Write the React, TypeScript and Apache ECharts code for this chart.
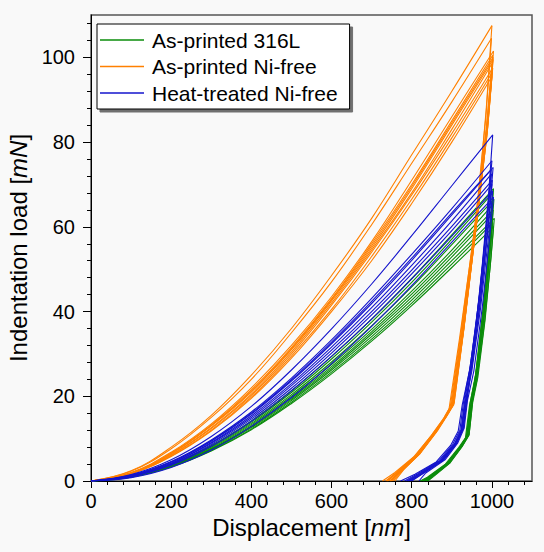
import React, { useEffect, useRef } from "react";
import * as echarts from "echarts";

// Displacement grid (nm) for loading branches
const loadDisp = [0, 100, 200, 300, 400, 500, 600, 700, 800, 900];

// ---------- As-printed 316L (green) ----------
const greenLoad = [
  [0, 1.2, 4.0, 8.4, 14.2, 21.3, 29.4, 38.2, 47.8, 58.1],
  [0, 1.2, 3.9, 8.2, 13.9, 20.9, 28.8, 37.5, 46.9, 57.1],
  [0, 1.1, 3.8, 8.0, 13.6, 20.4, 28.1, 36.6, 45.8, 55.8],
  [0, 1.1, 3.7, 7.8, 13.3, 20.0, 27.5, 35.8, 44.8, 54.5],
  [0, 1.0, 3.6, 7.6, 13.0, 19.6, 27.0, 35.2, 44.1, 53.7],
  [0, 1.0, 3.5, 7.5, 12.8, 19.3, 26.6, 34.7, 43.4, 52.9],
  [0, 1.0, 3.5, 7.4, 12.6, 19.0, 26.2, 34.1, 42.7, 52.0],
  [0, 0.9, 3.4, 7.2, 12.3, 18.6, 25.7, 33.5, 42.0, 51.2],
  [0, 0.9, 3.3, 7.1, 12.1, 18.3, 25.3, 33.0, 41.4, 50.4],
];
const greenPeak = [
  [1004, 69], [1002, 68], [1005, 66.5], [1000, 65], [1003, 64],
  [1001, 63], [1006, 62], [1002, 61], [1004, 60],
];
const greenUnload = [
  [[996, 58], [982, 42], [964, 27], [951, 19], [942, 11], [926, 8.4], [894, 4.3], [852, 1.1], [836, 0]],
  [[994, 57], [979, 41], [961, 26], [948, 18.5], [939, 10.8], [923, 8.2], [890, 4.2], [848, 1], [831, 0]],
  [[997, 56], [983, 41], [965, 26], [952, 19], [943, 11], [927, 8.4], [895, 4.3], [853, 1.1], [838, 0]],
  [[992, 55], [977, 40], [959, 25], [946, 18.5], [937, 10.5], [921, 8.1], [888, 4.1], [845, 1], [828, 0]],
  [[995, 54], [980, 39], [962, 25], [949, 18.5], [940, 10.6], [924, 8.2], [891, 4.2], [849, 1], [832, 0]],
  [[993, 53], [977, 38], [958, 24], [944, 17.8], [934, 10.2], [917, 7.9], [883, 3.9], [839, 0.9], [821, 0]],
  [[998, 53], [983, 38], [965, 24.5], [952, 18.5], [943, 10.8], [927, 8.3], [896, 4.3], [855, 1.1], [840, 0]],
  [[994, 52], [979, 37], [960, 23.5], [946, 17.5], [936, 10.3], [920, 8], [886, 4], [842, 0.9], [824, 0]],
  [[996, 51], [981, 37], [962, 23.5], [948, 17.5], [938, 10.4], [922, 8], [889, 4.1], [846, 1], [829, 0]],
];

// ---------- As-printed Ni-free (orange) ----------
const orangeLoad = [
  [0, 2.4, 8.0, 15.5, 25.0, 36.0, 48.5, 62.0, 77.0, 92.0],
  [0, 2.3, 7.6, 15.0, 24.0, 35.0, 47.0, 60.5, 75.0, 89.5],
  [0, 2.0, 6.8, 13.5, 22.0, 32.0, 43.5, 56.5, 71.0, 86.0],
  [0, 1.9, 6.6, 13.2, 21.5, 31.5, 43.0, 56.0, 70.0, 85.0],
  [0, 1.9, 6.4, 13.0, 21.0, 31.0, 42.5, 55.0, 69.0, 84.0],
  [0, 1.8, 6.2, 12.6, 20.5, 30.5, 42.0, 54.5, 68.0, 83.0],
  [0, 1.8, 6.1, 12.4, 20.2, 30.0, 41.5, 54.0, 67.5, 82.0],
  [0, 1.7, 5.9, 12.0, 19.8, 29.5, 40.5, 53.0, 66.5, 81.0],
  [0, 1.7, 5.8, 11.8, 19.5, 29.0, 40.0, 52.0, 65.5, 80.0],
  [0, 1.9, 6.5, 13.1, 21.2, 31.2, 42.8, 55.5, 69.5, 84.5],
];
const orangePeak = [
  [1000, 107.5], [999, 104.5], [1004, 101.5], [1002, 100.5], [1003, 99.5],
  [1000, 98.5], [1002, 97.5], [1001, 96.5], [1000, 95.5], [1003, 100],
];
const orangeUnload = [
  [[986, 88], [962, 62], [930, 36], [905, 18], [890, 15.8], [861, 11.6], [820, 6.4], [778, 2.6], [754, 0]],
  [[985, 86], [960, 62], [927, 36], [902, 18], [887, 15.5], [858, 11.4], [816, 6.2], [772, 2.4], [746, 0]],
  [[990, 86], [963, 62], [930, 36], [904, 18], [889, 15.8], [860, 11.5], [818, 6.3], [775, 2.5], [750, 0]],
  [[987, 84], [958, 60], [925, 35], [899, 17.5], [884, 15], [855, 11], [812, 6], [768, 2.3], [740, 0]],
  [[990, 84], [962, 61], [929, 35.5], [903, 18], [888, 15.5], [859, 11.4], [817, 6.2], [774, 2.4], [748, 0]],
  [[986, 83], [957, 60], [922, 34.5], [896, 17.5], [881, 15], [851, 11], [808, 5.9], [764, 2.2], [735, 0]],
  [[989, 83], [961, 60], [927, 35], [901, 17.8], [886, 15.3], [857, 11.2], [815, 6.1], [772, 2.4], [745, 0]],
  [[987, 82], [955, 58], [919, 33.5], [893, 17], [878, 14.5], [848, 10.6], [804, 5.6], [758, 2], [727, 0]],
  [[987, 81], [958, 59], [924, 34.5], [898, 17.5], [883, 15], [853, 11], [810, 5.9], [766, 2.2], [738, 0]],
  [[990, 85], [963, 62], [931, 36.5], [906, 18.5], [892, 16], [864, 11.8], [822, 6.6], [780, 2.7], [758, 0]],
];

// ---------- Heat-treated Ni-free (blue) ----------
const blueLoad = [
  [0, 1.5, 5.0, 10.5, 17.6, 26.2, 35.9, 46.5, 57.9, 69.7],
  [0, 1.4, 4.6, 9.7, 16.3, 24.3, 33.3, 43.1, 53.5, 64.3],
  [0, 1.3, 4.4, 9.4, 15.8, 23.6, 32.4, 41.9, 52.1, 62.8],
  [0, 1.2, 4.2, 9.1, 15.4, 23.0, 31.6, 40.9, 50.9, 61.4],
  [0, 1.2, 4.1, 8.9, 15.0, 22.5, 30.9, 40.0, 49.8, 60.1],
  [0, 1.1, 3.9, 8.6, 14.6, 21.9, 30.2, 39.2, 48.9, 59.1],
  [0, 1.0, 3.7, 8.2, 14.1, 21.3, 29.4, 38.2, 47.7, 57.8],
  [0, 0.8, 3.2, 7.3, 12.9, 19.7, 27.7, 36.5, 46.1, 56.4],
  [0, 1.3, 4.5, 9.5, 16.0, 23.9, 32.8, 42.4, 52.6, 63.3],
];
const bluePeak = [
  [1002, 81.7], [1000, 75.6], [1003, 74], [999, 72.5], [1001, 71],
  [1000, 70], [1002, 68.5], [1004, 67], [998, 73.5],
];
const blueUnload = [
  [[992, 68], [975, 50], [955, 32], [938, 19], [929, 12.5], [913, 9], [880, 5], [830, 1.9], [800, 0]],
  [[990, 64], [972, 46], [952, 30], [936, 19], [927, 12.2], [910, 8.8], [876, 4.9], [826, 1.8], [795, 0]],
  [[993, 63], [974, 45], [953, 29], [937, 19], [928, 12.3], [911, 8.8], [878, 4.9], [828, 1.8], [797, 0]],
  [[988, 61], [968, 43], [946, 27], [929, 18.5], [920, 12], [902, 8.6], [867, 4.7], [815, 1.7], [782, 0]],
  [[991, 60], [971, 42], [950, 27], [933, 18.5], [924, 12], [907, 8.7], [873, 4.8], [822, 1.8], [790, 0]],
  [[989, 59], [967, 41], [944, 26], [926, 18], [916, 11.8], [897, 8.4], [861, 4.5], [808, 1.6], [772, 0]],
  [[992, 58], [972, 41], [950, 26], [934, 18.5], [925, 12], [908, 8.7], [874, 4.8], [823, 1.8], [792, 0]],
  [[994, 57], [976, 41], [955, 26], [939, 19], [931, 12.5], [915, 9], [883, 5], [835, 1.9], [818, 0]],
  [[988, 62], [969, 44], [948, 28], [932, 18.8], [923, 12.1], [906, 8.7], [871, 4.8], [820, 1.8], [787, 0]],
];

// Axis ticks
const xMajor = [0, 200, 400, 600, 800, 1000];
const xMinor = [40, 80, 120, 160, 240, 280, 320, 360, 440, 480, 520, 560, 640, 680, 720, 760, 840, 880, 920, 960, 1040, 1080];
const yMajor = [0, 20, 40, 60, 80, 100];
const yMinor = [4, 8, 12, 16, 24, 28, 32, 36, 44, 48, 52, 56, 64, 68, 72, 76, 84, 88, 92, 96, 104, 108];

const groupNames = ["As-printed 316L", "As-printed Ni-free", "Heat-treated Ni-free"];
const groupColors = ["#0b8c0b", "#ff8000", "#1414cc"];

const FONT = '"Liberation Sans", Arial, Helvetica, sans-serif';

function buildSeries() {
  const groups = [
    { load: greenLoad, peak: greenPeak, unload: greenUnload },
    { load: orangeLoad, peak: orangePeak, unload: orangeUnload },
    { load: blueLoad, peak: bluePeak, unload: blueUnload },
  ];
  const series: any[] = [];
  groups.forEach((g, gi) => {
    g.load.forEach((vals, ci) => {
      const loading = loadDisp.map((h, k) => [h, vals[k]]).concat([g.peak[ci]]);
      const unloading = [g.peak[ci]].concat(g.unload[ci]);
      const common = {
        type: "line",
        name: groupNames[gi],
        xAxisIndex: 0,
        yAxisIndex: 0,
        symbol: "none",
        showSymbol: false,
        silent: true,
        lineStyle: { color: groupColors[gi], width: 1.1 },
        itemStyle: { color: groupColors[gi] },
        z: 2 + gi,
      };
      series.push({ ...common, data: loading, smooth: 0.4 });
      series.push({ ...common, data: unloading, smooth: false });
    });
  });
  return series;
}

export default function App() {
  const ref = useRef<HTMLDivElement>(null);
  useEffect(() => {
    if (!ref.current) return;
    const chart = echarts.init(ref.current, undefined, { renderer: "svg" });
    const axisLineStyle = { color: "#000", width: 1 };
    const titleRich = {
      a: { fontSize: 24, color: "#000", fontFamily: FONT },
      i: { fontSize: 24, color: "#000", fontFamily: FONT, fontStyle: "italic" },
    };
    chart.setOption({
      animation: false,
      backgroundColor: "#f9f9f9",
      textStyle: { fontFamily: FONT },
      grid: {
        left: 91,
        top: 15,
        width: 441,
        height: 466,
        show: true,
        borderColor: "#555",
        borderWidth: 1.5,
        backgroundColor: "#f9f9f9",
        containLabel: false,
        outerBoundsMode: "none",
      },
      legend: {
        data: groupNames,
        orient: "vertical",
        left: 97,
        top: 24,
        padding: [5, 12, 5, 3],
        itemGap: 4.5,
        itemWidth: 44,
        itemHeight: 1.5,
        icon: "rect",
        backgroundColor: "#ffffff",
        borderColor: "#000",
        borderWidth: 1,
        borderRadius: 0,
        shadowColor: "rgba(0,0,0,0.55)",
        shadowOffsetX: 3,
        shadowOffsetY: 3,
        shadowBlur: 0,
        selectedMode: false,
        textStyle: { fontSize: 21, color: "#000", fontFamily: FONT, lineHeight: 22, padding: [0, 0, 0, 3] },
      },
      xAxis: [
        {
          type: "value",
          min: 0,
          max: 1100,
          interval: 200,
          position: "bottom",
          axisLine: { show: true, lineStyle: axisLineStyle },
          axisTick: { show: true, length: 7, customValues: xMajor, lineStyle: axisLineStyle },
          axisLabel: {
            customValues: xMajor,
            fontSize: 20,
            color: "#000",
            margin: 10,
            fontFamily: FONT,
            formatter: (v: number) => String(v),
          },
          splitLine: { show: false },
          name: "{a|Displacement [}{i|nm}{a|]}",
          nameLocation: "middle",
          nameGap: 30,
          nameTextStyle: { rich: titleRich },
        },
        {
          type: "value",
          min: 0,
          max: 1100,
          interval: 40,
          position: "bottom",
          axisLine: { show: false },
          axisTick: { show: true, length: 4, customValues: xMinor, lineStyle: axisLineStyle },
          axisLabel: { show: false },
          splitLine: { show: false },
        },
      ],
      yAxis: [
        {
          type: "value",
          min: 0,
          max: 110,
          interval: 20,
          position: "left",
          axisLine: { show: true, lineStyle: axisLineStyle },
          axisTick: { show: true, length: 8, customValues: yMajor, lineStyle: axisLineStyle },
          axisLabel: {
            customValues: yMajor,
            fontSize: 20,
            color: "#000",
            margin: 16,
            fontFamily: FONT,
            formatter: (v: number) => String(v),
          },
          splitLine: { show: false },
          name: "{a|Indentation load [}{i|mN}{a|]}",
          nameLocation: "middle",
          nameGap: 50,
          nameRotate: 90,
          nameTextStyle: { rich: titleRich },
        },
        {
          type: "value",
          min: 0,
          max: 110,
          interval: 4,
          position: "left",
          axisLine: { show: false },
          axisTick: { show: true, length: 4, customValues: yMinor, lineStyle: axisLineStyle },
          axisLabel: { show: false },
          splitLine: { show: false },
        },
      ],
      series: buildSeries(),
    });
    return () => chart.dispose();
  }, []);
  return (
    <div
      ref={ref}
      style={{ position: "fixed", left: 0, top: 0, width: 544, height: 552 }}
    />
  );
}
